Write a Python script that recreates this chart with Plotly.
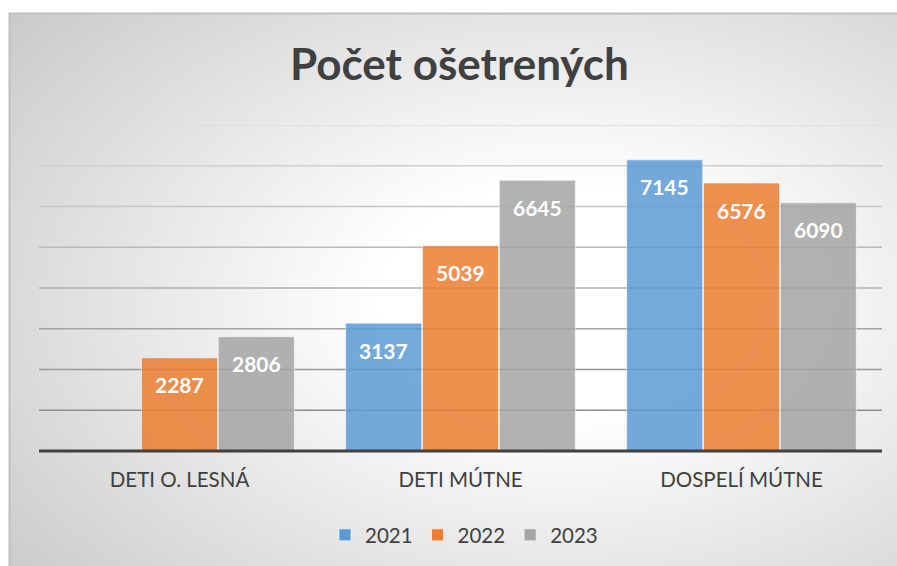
import numpy as np
import plotly.graph_objects as go

W, H = 897, 566

categories = ["DETI O. LESNÁ", "DETI MÚTNE", "DOSPELÍ MÚTNE"]
series_names = ["2021", "2022", "2023"]
values_2021 = [None, 3137, 7145]
values_2022 = [2287, 5039, 6576]
values_2023 = [2806, 6645, 6090]
grid_values = [1000, 2000, 3000, 4000, 5000, 6000, 7000, 8000]
title_text = "Počet ošetrených"

series_values = [values_2021, values_2022, values_2023]
colors = ["#5B9BD5", "#ED7D31", "#A5A5A5"]

FONT = "Lato"
TXT = "#404040"

# layout geometry (pixels)
frame_l, frame_t = 10, 14
plot_l, plot_r = 39, 882
plot_t, plot_b = 125, 451
bargap, bargroupgap = 0.18, 0.01

fig = go.Figure()

# ---- background radial gradient (decorative) on subplot xy ----
gx = np.linspace(frame_l, W, 90)
gy = np.linspace(frame_t, H, 60)
X, Y = np.meshgrid(gx, gy)
cx, cy, rx, ry = 560, 300, 600, 380
t = np.sqrt(((X - cx) / rx) ** 2 + ((Y - cy) / ry) ** 2)
frac = np.clip((t - 0.3) / 0.95, 0, 1)
fig.add_trace(go.Heatmap(
    x=gx, y=gy, z=frac, zmin=0, zmax=1, zsmooth="best",
    colorscale=[[0, "#ffffff"], [1, "#c6c6c6"]], showscale=False,
    hoverinfo="skip", xaxis="x", yaxis="y", showlegend=False,
))

# ---- bars on subplot x2y2 ----
for name, vals, col in zip(series_names, series_values, colors):
    fig.add_trace(go.Bar(
        name=name, x=categories, y=vals, xaxis="x2", yaxis="y2",
        marker=dict(color=col, opacity=0.85,
                    line=dict(color="rgba(255,255,255,0.6)", width=1)),
        hoverinfo="skip",
    ))

# data labels
plot_w = plot_r - plot_l
cat_w = plot_w / len(categories)
slot = cat_w * (1 - bargap) / len(series_names)
annotations = []
for i, vals in enumerate(series_values):
    for c, v in zip(categories, vals):
        if v is None:
            continue
        annotations.append(dict(
            x=c, y=v, xref="x2", yref="y2", text=str(v), showarrow=False,
            xshift=(i - (len(series_names) - 1) / 2) * slot, yshift=-27,
            yanchor="middle", xanchor="center",
            font=dict(family=FONT, size=21, color="white", weight="bold"),
        ))

# title
annotations.append(dict(
    x=460 / W, y=1 - 63 / H, xref="paper", yref="paper", text=title_text,
    showarrow=False, xanchor="center", yanchor="middle",
    font=dict(family=FONT, size=44, color=TXT, weight="bold"),
))

x_lo, x_hi = -0.5, len(categories) - 0.5
shapes = []
# gridlines with vertical colour gradient
g_top, g_bot = np.array([0xdc] * 3), np.array([0x8e] * 3)
for gv in grid_values:
    f = (gv - grid_values[0]) / (grid_values[-1] - grid_values[0])
    c = (g_bot + (g_top - g_bot) * f).astype(int)
    shapes.append(dict(
        type="line", xref="x2", yref="y2", x0=x_lo, x1=x_hi, y0=gv, y1=gv,
        line=dict(color=f"rgb({c[0]},{c[1]},{c[2]})", width=1.6), layer="below",
    ))
# baseline (category axis line)
shapes.append(dict(
    type="line", xref="paper", yref="paper", x0=plot_l / W, x1=plot_r / W,
    y0=1 - plot_b / H, y1=1 - plot_b / H,
    line=dict(color="#404040", width=3.2), layer="above",
))
# chart frame border
shapes.append(dict(
    type="rect", xref="paper", yref="paper", x0=(frame_l - 0.5) / W, x1=1.02,
    y0=-0.02, y1=1 - (frame_t - 0.5) / H,
    line=dict(color="#bfbfbf", width=2), fillcolor="rgba(0,0,0,0)", layer="above",
))

fig.update_layout(
    width=W, height=H, margin=dict(l=0, r=0, t=0, b=0),
    paper_bgcolor="white", plot_bgcolor="rgba(0,0,0,0)",
    barmode="group", bargap=bargap, bargroupgap=bargroupgap,
    font=dict(family=FONT, color=TXT),
    xaxis=dict(domain=[frame_l / W, 1], range=[frame_l, W], visible=False,
               fixedrange=True),
    yaxis=dict(domain=[0, 1 - frame_t / H], range=[H, frame_t], visible=False,
               fixedrange=True),
    xaxis2=dict(domain=[plot_l / W, plot_r / W], anchor="y2", type="category",
                range=[x_lo, x_hi],
                showgrid=False, showline=False, ticks="", zeroline=False,
                tickfont=dict(family=FONT, size=20.5, color=TXT),
                ticklabelstandoff=14),
    yaxis2=dict(domain=[1 - plot_b / H, 1 - plot_t / H], anchor="x2",
                range=[0, 8000], showgrid=False, showticklabels=False,
                zeroline=False, showline=False),
    legend=dict(orientation="h", x=464 / W, xanchor="center",
                y=1 - 535 / H, yanchor="middle", bgcolor="rgba(0,0,0,0)",
                font=dict(family=FONT, size=20.5, color=TXT), traceorder="normal"),
    annotations=annotations, shapes=shapes, showlegend=True,
)

fig.write_html(
    "out.html",
    config={"displayModeBar": False},
    post_script="document.body.style.margin='0';document.body.style.overflow='hidden';",
)
